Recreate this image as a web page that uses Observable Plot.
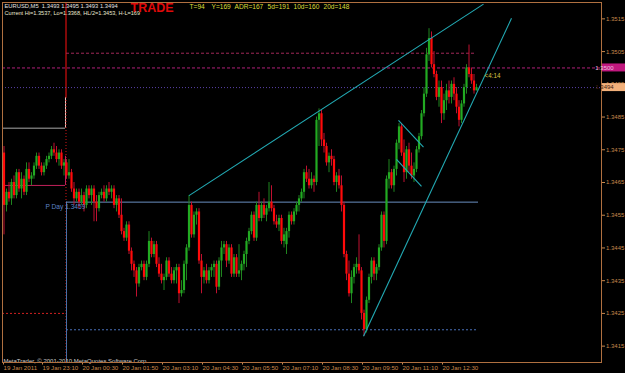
<!DOCTYPE html>
<html>
<head>
<meta charset="utf-8">
<script src="https://cdn.jsdelivr.net/npm/d3@7"></script>
<script src="https://cdn.jsdelivr.net/npm/@observablehq/plot@0.6"></script>
<style>
  html, body { margin: 0; padding: 0; background: #000; }
  #chart { width: 625px; height: 373px; }
</style>
</head>
<body>
<div id="chart"></div>
<script>
// ---------------- DATA ----------------
// EURUSD M5 bars; each row [open, high, low, close] in pips above 1.3000
const BASE = 1.3, PIP = 0.0001;
const firstBar = Date.UTC(2011, 0, 19, 21, 55);
const barMinutes = 5;
const ohlc = [
[474,476,449,458],[458,463,456,462],[462,465,459,460],[460,466,458,465],[465,467,460,461],
[461,469,460,468],[468,469,462,463],[463,468,460,466],[466,467,461,462],[462,471,461,469],
[469,471,465,466],[466,468,464,467],[467,471,466,470],[470,474,469,473],[473,474,469,470],
[470,471,467,468],[468,471,467,470],[470,473,469,472],[472,474,471,473],[473,476,472,475],
[475,477,473,474],[474,476,471,472],[472,475,470,474],[474,475,469,470],[470,472,467,471],
[471,472,466,467],[467,472,466,468],[468,469,462,463],[463,465,458,460],[460,463,459,462],
[462,463,457,459],[459,463,458,461],[461,462,456,458],[458,464,457,463],[463,464,460,461],
[461,464,458,463],[463,464,453,459],[459,461,453,457],[457,462,456,461],[461,463,460,462],
[462,464,459,460],[460,464,459,463],[463,465,461,462],[462,464,460,463],[463,464,457,458],
[458,461,456,460],[460,461,454,455],[455,460,449,450],[450,451,447,448],[448,453,447,452],
[452,453,443,444],[444,445,438,440],[440,441,436,438],[438,439,430,434],[434,440,433,439],
[439,441,438,440],[440,441,435,436],[436,441,435,440],[440,450,439,447],[447,448,442,443],
[443,447,442,446],[446,447,439,440],[440,442,436,437],[437,440,434,435],[435,437,432,436],
[436,442,435,441],[441,442,436,437],[437,439,434,435],[435,439,434,438],[438,440,434,439],
[439,440,428,431],[431,435,430,432],[432,441,431,440],[440,446,435,445],[445,461,444,458],
[458,459,448,449],[449,456,448,455],[455,457,452,456],[456,457,440,441],[441,443,431,436],
[436,439,434,438],[438,440,434,435],[435,439,434,438],[438,440,436,439],[439,441,436,440],
[440,441,431,433],[433,442,432,441],[441,447,436,445],[445,447,443,446],[446,447,439,441],
[441,446,440,445],[445,446,436,437],[437,443,436,442],[442,443,436,437],[437,446,436,438],
[438,441,435,440],[440,444,438,443],[443,448,439,447],[447,451,446,450],[450,456,449,455],
[455,456,447,448],[448,459,447,458],[458,462,453,454],[454,459,453,458],[458,460,454,455],
[455,458,453,457],[457,465,456,459],[459,464,456,457],[457,458,452,453],[453,455,451,452],
[452,455,450,454],[454,455,446,447],[447,451,445,449],[446,451,443,450],[450,456,448,455],
[455,456,452,453],[453,457,452,456],[456,459,455,458],[458,461,456,460],[460,463,459,462],
[462,469,460,468],[468,470,465,466],[466,469,463,464],[464,468,463,466],[466,467,462,465],
[465,485,464,484],[484,487.5,476,486],[486,487,476,478],[478,480,474,476],[476,477,470,471],
[471,474,468,473],[473,475,470,472],[472,473,464,465],[465,468,462,467],[467,469,463,464],
[464,467,456,458],[458,459,442,443],[443,444,435,437],[437,441,430,431],[431,438,428,436],
[436,440,434,439],[439,442,437,440],[440,449,437,438],[438,439,423,425],[425,426,418,420],
[420,430,419,429],[429,437,428,436],[436,442,434,441],[441,442,435,437],[437,440,435,439],
[439,446,438,445],[445,456,444,455],[455,456,445,447],[447,467,446,466],[466,472,463,468],
[468,469,463,464],[464,470,462,469],[469,478,467,477],[477,483,475,482],[482,483,473,474],
[474,478,465,468],[468,476,466,475],[475,477,468,470],[470,474,466,467],[467,471,465,469],
[469,476,468,475],[475,480,474,479],[479,487,478,486],[486,494,485,492],[492,506,491,504],
[504,512,502,509],[509,511,500,501],[501,505,497,498],[498,499,490,491],[491,496,488,494],
[494,496,483,486],[486,492,484,490],[490,495,487,493],[493,496,489,491],[491,496,489,495],
[495,497,490,492],[492,494,486,488],[488,490,482,484],[484,490,483,489],[489,495,488,494],
[494,501,492,500],[500,507,497,498],[498,500,495,496],[496,498,492,493],[493,495,493,494]
];

// price axis ticks
const yTicks = [1.3415, 1.3425, 1.3435, 1.3445, 1.3455, 1.3465, 1.3475, 1.3485, 1.3495, 1.3505, 1.3515];
// time axis ticks
const xTickTimes = ["2011-01-19T21:52Z","2011-01-19T23:10Z","2011-01-20T00:30Z","2011-01-20T01:50Z",
  "2011-01-20T03:10Z","2011-01-20T04:30Z","2011-01-20T05:50Z","2011-01-20T07:10Z",
  "2011-01-20T08:30Z","2011-01-20T09:50Z","2011-01-20T11:10Z","2011-01-20T12:30Z"];
const xTickLabels = ["19 Jan 2011","19 Jan 23:10","20 Jan 00:30","20 Jan 01:50","20 Jan 03:10",
  "20 Jan 04:30","20 Jan 05:50","20 Jan 07:10","20 Jan 08:30","20 Jan 09:50","20 Jan 11:10","20 Jan 12:30"];

// trend lines (time, price)
const trendLines = [
  {t1:"2011-01-20T04:05Z", p1:1.3461,  t2:"2011-01-20T13:54Z", p2:1.35195},
  {t1:"2011-01-20T09:54Z", p1:1.3418,  t2:"2011-01-20T14:50Z", p2:1.35152},
  {t1:"2011-01-20T11:04Z", p1:1.3484,  t2:"2011-01-20T11:54Z", p2:1.34758},
  {t1:"2011-01-20T11:00Z", p1:1.34721, t2:"2011-01-20T11:50Z", p2:1.34638}
];

// indicator levels
const prevHigh = 1.34816, prevMid = 1.34641, prevLow = 1.3425;
const pDay = 1.3459, dayLowLine = 1.3420, upperLevel = 1.35045, askLevel = 1.3500, bidLevel = 1.3494;
const bidTopMark = 1.3491;
const dayStart = "2011-01-20T00:00Z", sepTime = "2011-01-19T23:59Z", boxEdge = "2011-01-19T23:58Z";
const lineEnd = "2011-01-20T13:44Z", upperEnd = "2011-01-20T13:38Z";
const domainStart = "2011-01-19T21:52Z", domainEnd = "2011-01-20T17:50Z";

const headerLine1 = "EURUSD,M5  1.3493 1.3495 1.3493 1.3494";
const headerLine2 = "Current Hi=1.3537, Lo=1.3368, HL/2=1.3453, H-L=169";
const statLabels = ["T=94", "Y=169", "ADR=167", "5d=191", "10d=160", "20d=148"];
const tradeLabel = "TRADE";
const pDayLabel = "P Day 1.3459";
const timerLabel = "<4:14";
const copyright = "MetaTrader, \u00a9 2001-2010 MetaQuotes Software Corp.";

// ---------------- BUILD ----------------
const D = s => new Date(s);
const candles = ohlc.map(([o, h, l, c], i) => ({
  time: new Date(firstBar + i * barMinutes * 60000),
  open: BASE + o * PIP, high: BASE + h * PIP, low: BASE + l * PIP, close: BASE + c * PIP,
  up: c >= o
}));
const links = trendLines.map(d => ({x1: D(d.t1), y1: d.p1, x2: D(d.t2), y2: d.p2}));
const tickMap = new Map(xTickTimes.map((t, i) => [+D(t), xTickLabels[i]]));
const lastBar = candles[candles.length - 1];
const t0 = D(domainStart);

const statOffsets = [187, 209, 232, 265, 291, 321];
const font = "'Liberation Sans', Arial, sans-serif";

const plot = Plot.plot({
  width: 625, height: 373,
  marginTop: 2, marginRight: 24, marginBottom: 11, marginLeft: 2,
  style: {background: "#000", color: "#c8884c", fontFamily: font, fontSize: "6px", overflow: "visible"},
  x: {type: "utc", domain: [D(domainStart), D(domainEnd)], axis: null},
  y: {domain: [1.3410, 1.3520], axis: null},
  marks: [
    // previous-day box / separators
    Plot.ruleY([prevHigh], {x1: t0, x2: D(boxEdge), stroke: "#a8a8a8"}),
    Plot.ruleX([D(boxEdge)], {y1: prevHigh, y2: bidTopMark, stroke: "#e8c0b8"}),
    Plot.ruleX([D(sepTime)], {y1: bidTopMark, y2: 1.3520, stroke: "#ff1010"}),
    Plot.ruleX([D(sepTime)], {y1: 1.3410, y2: bidTopMark, stroke: "#d01818", strokeDasharray: "1,2"}),
    Plot.ruleY([prevMid], {x1: t0, x2: D(boxEdge), stroke: "#c0205a"}),
    Plot.ruleX([D(boxEdge)], {y1: prevMid, y2: 1.3473, stroke: "#c0205a"}),
    Plot.ruleY([prevLow], {x1: t0, x2: D(boxEdge), stroke: "#d02020", strokeDasharray: "2,2"}),
    Plot.ruleX([D(dayStart)], {y1: 1.3410, y2: pDay, stroke: "#4a70a8"}),
    Plot.ruleY([pDay], {x1: D(dayStart), x2: D(lineEnd), stroke: "#6a8fc0"}),
    Plot.ruleY([dayLowLine], {x1: D(dayStart), x2: D(lineEnd), stroke: "#4a70b8", strokeDasharray: "2,2"}),
    Plot.ruleY([upperLevel], {x1: D(dayStart), x2: D(upperEnd), stroke: "#a02858", strokeDasharray: "3,2"}),
    Plot.ruleY([askLevel], {stroke: "#b0207a", strokeDasharray: "3,2"}),
    Plot.ruleY([bidLevel], {stroke: "#5a40a8", strokeDasharray: "1,2"}),
    // candles
    Plot.ruleX(candles, {x: "time", y1: "low", y2: "high", stroke: d => d.up ? "#1f851f" : "#c01030", strokeWidth: 1}),
    Plot.ruleX(candles, {x: "time", y1: "open", y2: "close", stroke: d => d.up ? "#22aa22" : "#ff0a0a", strokeWidth: 2.2}),
    // trend lines
    Plot.link(links, {x1: "x1", y1: "y1", x2: "x2", y2: "y2", stroke: "#22aab4", strokeWidth: 1.1}),
    // texts
    Plot.text([headerLine1], {text: d => d, frameAnchor: "top-left", textAnchor: "start", lineAnchor: "top", dx: 2, dy: 1.5, fill: "#e0e0e0", fontSize: 5.8}),
    Plot.text([headerLine2], {text: d => d, frameAnchor: "top-left", textAnchor: "start", lineAnchor: "top", dx: 2, dy: 8.5, fill: "#e8e8d0", fontSize: 5.6}),
    Plot.text([tradeLabel], {text: d => d, frameAnchor: "top-left", textAnchor: "start", lineAnchor: "top", dx: 128, dy: 0.5, fill: "#e00a0a", fontSize: 12.5, fontWeight: "bold", fontFamily: font}),
    ...statLabels.map((s, i) => Plot.text([s], {text: d => d, frameAnchor: "top-left", textAnchor: "start", lineAnchor: "top", dx: statOffsets[i], dy: 1.5, fill: "#dede3a", fontSize: 6.6})),
    Plot.text([pDayLabel], {text: d => d, y: () => pDay, frameAnchor: "left", textAnchor: "start", dx: 43, dy: 4.5, fill: "#5d85c8", fontSize: 6.6}),
    Plot.text([timerLabel], {text: d => d, x: () => lastBar.time, y: () => lastBar.close, textAnchor: "start", dx: 8, dy: -12, fill: "#d8c040", fontSize: 6.3}),
    Plot.text([copyright], {text: d => d, frameAnchor: "bottom-left", textAnchor: "start", lineAnchor: "bottom", dx: 1, dy: 0, fill: "#cccccc", fontSize: 6}),
    // axes
    Plot.axisX({anchor: "bottom", ticks: xTickTimes.map(D), tickFormat: d => tickMap.get(+d), tickSize: 2.5, tickPadding: 0.5, textAnchor: "start", dx: 1, fontSize: 6.2}),
    Plot.axisY({anchor: "right", ticks: yTicks, tickFormat: d3.format(".4f"), tickSize: 3, tickPadding: 1.5, fontSize: 6}),
    Plot.frame({stroke: "#b07040"})
  ]
});

// price tags on the right axis
const yScale = plot.scale("y");
const svg = d3.select(plot);
const tags = [
  {price: askLevel, fill: "#c0187e", text: "#f0c0e0"},
  {price: bidLevel, fill: "#f2b07a", text: "#402010"}
];
for (const t of tags) {
  const yy = yScale.apply(t.price);
  svg.append("rect").attr("x", 602).attr("y", yy - 4).attr("width", 23).attr("height", 8).attr("fill", t.fill);
  svg.append("text").attr("x", 604.5).attr("y", yy).attr("dy", "0.35em")
    .attr("font-size", 6).attr("fill", t.text).attr("font-family", font).text(d3.format(".4f")(t.price));
}
document.getElementById("chart").append(plot);
</script>
</body>
</html>
